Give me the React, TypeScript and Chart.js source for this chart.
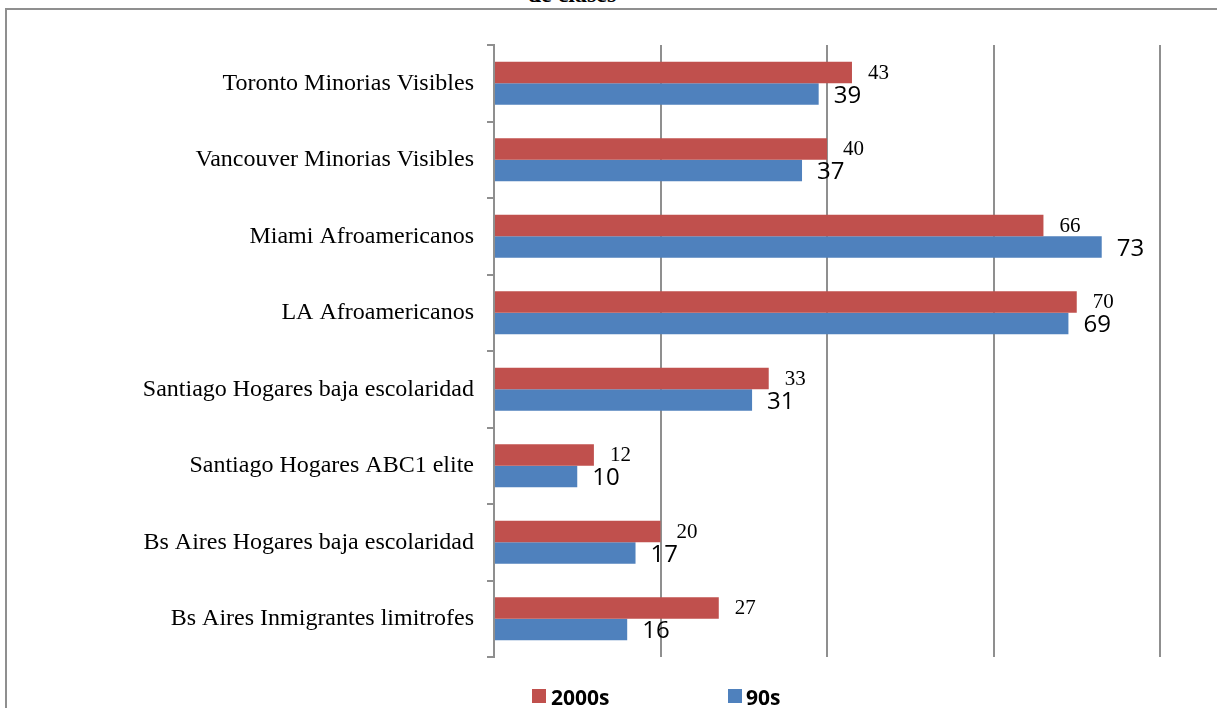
import React, { useEffect, useRef } from "react";
import { Chart, registerables } from "chart.js";

Chart.register(...registerables);

const categories = [
  "Toronto Minorias Visibles",
  "Vancouver Minorias Visibles",
  "Miami Afroamericanos",
  "LA Afroamericanos",
  "Santiago Hogares baja escolaridad",
  "Santiago Hogares ABC1 elite",
  "Bs Aires Hogares baja escolaridad",
  "Bs Aires Inmigrantes limitrofes",
];
const values2000s = [43, 40, 66, 70, 33, 12, 20, 27];
const values90s = [39, 37, 73, 69, 31, 10, 17, 16];
const seriesNames = ["2000s", "90s"];
const seriesColors = ["#C0504D", "#4F81BD"];
const axisMin = 0;
const axisMax = 80;
const axisStep = 20;
const titleText = "de clases";

const GRID = "#8f8f8f";

const valueLabels = {
  id: "valueLabels",
  afterDatasetsDraw(chart: any) {
    const ctx = chart.ctx;
    chart.data.datasets.forEach((ds: any, i: number) => {
      const meta = chart.getDatasetMeta(i);
      ctx.save();
      ctx.font = i === 0 ? "21px 'Liberation Serif'" : "24px 'Open Sans'";
      ctx.fillStyle = "#000";
      ctx.textBaseline = "middle";
      ctx.textAlign = "left";
      meta.data.forEach((el: any, j: number) => {
        ctx.fillText(String(ds.data[j]), el.x + (i === 0 ? 16 : 15), el.y + (i === 0 ? 1 : 2));
      });
      ctx.restore();
    });
  },
};

export default function App() {
  const ref = useRef<HTMLCanvasElement | null>(null);

  useEffect(() => {
    if (!ref.current) return;
    const chart = new Chart(ref.current, {
      type: "bar",
      data: {
        labels: categories,
        datasets: [
          {
            label: seriesNames[0],
            data: values2000s,
            backgroundColor: seriesColors[0],
            borderWidth: 0,
            barPercentage: 1,
            categoryPercentage: 0.565,
          },
          {
            label: seriesNames[1],
            data: values90s,
            backgroundColor: seriesColors[1],
            borderWidth: 0,
            barPercentage: 1,
            categoryPercentage: 0.565,
          },
        ],
      },
      options: {
        indexAxis: "y",
        responsive: false,
        maintainAspectRatio: false,
        animation: false,
        layout: { padding: { left: 0, top: 45, right: 57, bottom: 51 } },
        plugins: {
          legend: { display: false },
          tooltip: { enabled: false },
          title: { display: false },
        },
        scales: {
          x: {
            min: axisMin,
            max: axisMax,
            ticks: { display: false, stepSize: axisStep },
            grid: { color: GRID, lineWidth: 2, drawTicks: false },
            border: { display: false },
            afterFit(scale: any) {
              scale.height = 0;
            },
          },
          y: {
            offset: true,
            ticks: {
              color: "#000",
              padding: 13,
              font: { family: "'Liberation Serif'", size: 24 },
            },
            grid: {
              offset: true,
              drawOnChartArea: false,
              drawTicks: true,
              tickLength: 7,
              color: GRID,
              lineWidth: 2,
            },
            border: { display: true, color: GRID, width: 2 },
            afterFit(scale: any) {
              scale.width = 494;
            },
          },
        },
      },
      plugins: [valueLabels],
    } as any);
    return () => chart.destroy();
  }, []);

  const legendText: React.CSSProperties = {
    position: "absolute",
    top: 682,
    fontFamily: "'Open Sans'",
    fontWeight: 700,
    fontSize: 21,
    lineHeight: "30px",
    color: "#000",
  };

  return (
    <div style={{ position: "fixed", left: 0, top: 0, width: 1217, height: 708, overflow: "hidden", background: "#fff" }}>
      <div
        style={{
          position: "absolute",
          left: 5,
          top: 8,
          width: 1300,
          height: 800,
          border: "2px solid #8f8f8f",
        }}
      />
      <div
        style={{
          position: "absolute",
          left: 522,
          top: -19,
          width: 100,
          textAlign: "center",
          fontFamily: "'Liberation Serif'",
          fontWeight: 700,
          fontSize: 24,
          lineHeight: "26px",
          color: "#000",
          whiteSpace: "nowrap",
        }}
      >
        {titleText}
      </div>
      <canvas ref={ref} width={1217} height={708} style={{ position: "absolute", left: 0, top: 0, width: 1217, height: 708 }} />
      <div style={{ position: "absolute", left: 532, top: 689, width: 14, height: 14, background: seriesColors[0] }} />
      <div style={{ ...legendText, left: 551 }}>{seriesNames[0]}</div>
      <div style={{ position: "absolute", left: 728, top: 689, width: 14, height: 14, background: seriesColors[1] }} />
      <div style={{ ...legendText, left: 746 }}>{seriesNames[1]}</div>
    </div>
  );
}
